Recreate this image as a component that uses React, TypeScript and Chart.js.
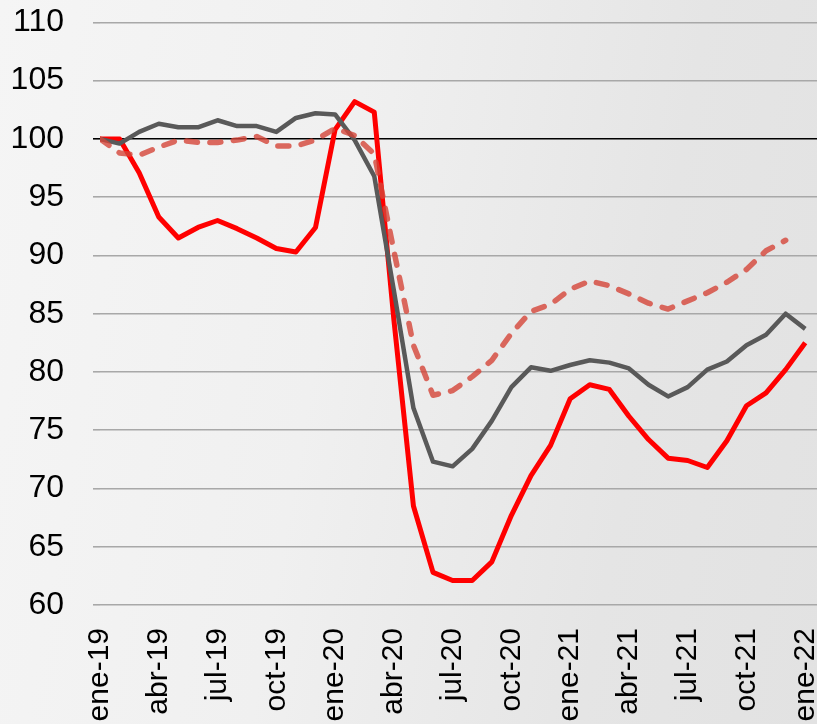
import React, { useEffect, useRef } from "react";
import { Chart, registerables } from "chart.js";

Chart.register(...registerables);

const months = [
  "ene-19", "feb-19", "mar-19", "abr-19", "may-19", "jun-19", "jul-19", "ago-19", "sep-19", "oct-19", "nov-19", "dic-19",
  "ene-20", "feb-20", "mar-20", "abr-20", "may-20", "jun-20", "jul-20", "ago-20", "sep-20", "oct-20", "nov-20", "dic-20",
  "ene-21", "feb-21", "mar-21", "abr-21", "may-21", "jun-21", "jul-21", "ago-21", "sep-21", "oct-21", "nov-21", "dic-21",
  "ene-22",
];

const tickIndices = [0, 3, 6, 9, 12, 15, 18, 21, 24, 27, 30, 33, 36];

const redSeries = [
  100, 100, 97.1, 93.3, 91.5, 92.4, 93.0, 92.3, 91.5, 90.6, 90.3, 92.4,
  100.8, 103.2, 102.3, 84.5, 68.5, 62.8, 62.1, 62.1, 63.7, 67.7, 71.1, 73.7,
  77.7, 78.9, 78.5, 76.2, 74.2, 72.6, 72.4, 71.8, 74.1, 77.1, 78.2, 80.2,
  82.5,
];

const graySeries = [
  100, 99.6, 100.6, 101.3, 101.0, 101.0, 101.6, 101.1, 101.1, 100.6, 101.8, 102.2,
  102.1, 99.9, 96.8, 87.0, 76.9, 72.3, 71.9, 73.4, 75.8, 78.7, 80.4, 80.1,
  80.6, 81.0, 80.8, 80.3, 78.9, 77.9, 78.7, 80.2, 80.9, 82.3, 83.2, 85.0,
  83.7,
];

const dashedSeries: (number | null)[] = [
  100, 98.8, 98.6, 99.3, 99.9, 99.7, 99.7, 99.9, 100.2, 99.4, 99.4, 99.9,
  100.9, 100.3, 98.7, 90.4, 82.3, 78.0, 78.4, 79.6, 81.0, 83.3, 85.2, 85.8,
  87.1, 87.8, 87.4, 86.7, 85.9, 85.4, 86.1, 86.8, 87.7, 88.8, 90.4, 91.3,
  null,
];

const yMin = 60;
const yMax = 110;
const yStep = 5;
const refLine = 100;

const toPoints = (arr: (number | null)[]) => arr.map((v, i) => ({ x: i, y: v }));

export default function App() {
  const ref = useRef<HTMLCanvasElement | null>(null);

  useEffect(() => {
    if (!ref.current) return;
    const font = "'Liberation Sans', Arial, sans-serif";
    const chart = new Chart(ref.current, {
      type: "line",
      data: {
        datasets: [
          {
            data: toPoints(dashedSeries) as any,
            borderColor: "rgba(212, 69, 56, 0.8)",
            borderWidth: 5.5,
            borderDash: [11, 12.5],
            borderCapStyle: "round",
            borderJoinStyle: "round",
            pointRadius: 0,
            tension: 0,
            spanGaps: false,
            order: 0,
          },
          {
            data: toPoints(graySeries) as any,
            borderColor: "#595959",
            borderWidth: 4.5,
            borderJoinStyle: "round",
            pointRadius: 0,
            tension: 0,
            order: 1,
          },
          {
            data: toPoints(redSeries) as any,
            borderColor: "#ff0000",
            borderWidth: 5,
            borderJoinStyle: "round",
            pointRadius: 0,
            tension: 0,
            order: 2,
          },
        ],
      },
      options: {
        animation: false,
        responsive: false,
        devicePixelRatio: 1,
        events: [],
        layout: { padding: { top: 22.4, left: 0, right: 0, bottom: 0 } },
        plugins: { legend: { display: false }, tooltip: { enabled: false } },
        scales: {
          x: {
            type: "linear",
            min: 0,
            max: 36.6,
            grid: { display: false, drawTicks: false },
            border: { display: false },
            afterFit: (scale: any) => {
              scale.height = 119;
              scale.paddingLeft = 0;
              scale.paddingRight = 0;
            },
            afterBuildTicks: (scale: any) => {
              scale.ticks = tickIndices.map((v) => ({ value: v }));
            },
            ticks: {
              autoSkip: false,
              minRotation: 90,
              maxRotation: 90,
              padding: 23,
              color: "#000",
              font: { family: font, size: 30 },
              callback: (v: any) => months[Number(v)] ?? "",
            },
          },
          y: {
            min: yMin,
            max: yMax,
            afterFit: (scale: any) => {
              scale.width = 100;
              scale.paddingTop = 0;
              scale.paddingBottom = 0;
            },
            grid: {
              color: (ctx: any) => (ctx.tick && ctx.tick.value === refLine ? "#000000" : "#a8a8a8"),
              lineWidth: 1.6,
              tickLength: 7,
            },
            border: { display: false },
            ticks: {
              stepSize: yStep,
              padding: 29,
              color: "#000",
              font: { family: font, size: 32 },
            },
          },
        },
      },
    });
    return () => chart.destroy();
  }, []);

  return (
    <div
      style={{
        position: "fixed",
        left: 0,
        top: 0,
        width: 817,
        height: 724,
        background: "linear-gradient(100deg, #f5f5f5 0%, #f0f0f0 40%, #e5e5e5 75%, #e2e2e2 100%)",
      }}
    >
      <canvas ref={ref} width={817} height={724} style={{ display: "block" }} />
    </div>
  );
}
